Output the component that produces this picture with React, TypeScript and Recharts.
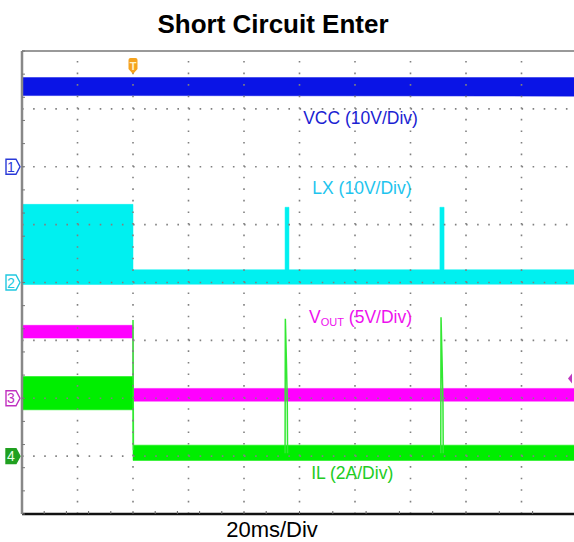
import { ComposedChart, Area, Line, XAxis, YAxis, ReferenceLine, ReferenceDot } from "recharts"

// scope screen: 10 horizontal divisions of 20 ms, 8 vertical divisions
const majorTime = [20, 40, 60, 80, 100, 120, 140, 160, 180]
const minorTime = Array.from({ length: 51 }, (_, i) => i * 4)
const majorDiv = [1, 2, 3, 4, 5, 6, 7]
const minorDiv = Array.from({ length: 41 }, (_, i) => i * 0.2)

// channel ground position (divisions from bottom) and units per division
const CH1 = { pos: 6, scale: 10 } // VCC, V
const CH2 = { pos: 4, scale: 10 } // LX, V
const CH3 = { pos: 2, scale: 5 } // VOUT, V
const CH4 = { pos: 1, scale: 2 } // IL, A

const triggerTime = 40
const triggerLevel = 1.7 // on CH3

// VCC noise band (V)
const vccTime = [0, 40, 200]
const vccLo = [12.3, 12.3, 12.2]
const vccHi = [15.4, 15.4, 15.4]

// LX switching band then hiccup pulses (V)
const lxTime = [0, 40, 40, 94.8, 94.8, 96.2, 96.2, 150.6, 150.6, 152.1, 152.1, 200]
const lxLo = [-0.35, -0.35, -0.3, -0.3, -0.3, -0.3, -0.3, -0.3, -0.3, -0.3, -0.3, -0.3]
const lxHi = [13.5, 13.5, 2.2, 2.2, 13.0, 13.0, 2.2, 2.2, 13.0, 13.0, 2.2, 2.2]

// VOUT band (V)
const voutTime = [0, 40, 40, 200]
const voutLo = [5.2, 5.2, -0.25, -0.25]
const voutHi = [6.3, 6.3, 0.85, 0.85]

// IL band (A)
const ilTime = [0, 40, 40, 200]
const ilLo = [1.6, 1.6, -0.15, -0.15]
const ilHi = [2.75, 2.75, 0.38, 0.38]

// IL spikes (A), null breaks the trace
const ilSpikeTime = [40, 40, 40.15, 40.15, 94.8, 94.9, 95.3, 95.6, 95.7, 95.7, 150.9, 151.0, 151.4, 151.7, 151.8]
const ilSpikeVal = [2.7, 4.7, 0.2, null, 0.1, 4.75, 3.2, 1.8, 0.1, null, 0.1, 4.8, 3.2, 1.8, 0.1]

const C = {
  vcc: "#0a14e6",
  lx: "#00f0f0",
  vout: "#ff00ff",
  il: "#00ee00",
}

const toDiv = (ch: { pos: number; scale: number }, v: number) => ch.pos + v / ch.scale

const band = (ch: { pos: number; scale: number }, time: number[], lo: number[], hi: number[]) =>
  time.map((t, i) => ({ t, v: [toDiv(ch, lo[i]), toDiv(ch, hi[i])] }))

const vccBand = band(CH1, vccTime, vccLo, vccHi)
const lxBand = band(CH2, lxTime, lxLo, lxHi)
const voutBand = band(CH3, voutTime, voutLo, voutHi)
const ilBand = band(CH4, ilTime, ilLo, ilHi)
const ilSpikes = ilSpikeTime.map((t, i) => ({
  t,
  v: ilSpikeVal[i] == null ? null : toDiv(CH4, ilSpikeVal[i] as number),
}))

const font = "'Liberation Sans', Arial, sans-serif"
const noTick = () => <g />

const ChannelTag = ({ cx, cy, n, color, filled }: any) => (
  <g>
    <path
      d={`M${cx - 16},${cy - 7.5} h10 l4,7.5 l-4,7.5 h-10 z`}
      fill={filled ? color : "#fff"}
      stroke={color}
      strokeWidth={1.4}
    />
    <text x={cx - 11} y={cy + 5} fontSize={14} fontFamily={font} textAnchor="middle" fill={filled ? "#e8ffe8" : color}>
      {n}
    </text>
  </g>
)

const TriggerT = ({ cx, cy }: any) => (
  <g>
    <path d={`M${cx - 4.5},${cy + 9} q0,-2 2,-2 h5 q2,0 2,2 v9 l-4.5,5 l-4.5,-5 z`} fill="#f5a31e" />
    <text x={cx} y={cy + 19} fontSize={11} fontFamily={font} fontWeight="bold" textAnchor="middle" fill="#fff3c8">
      T
    </text>
  </g>
)

const LevelMark = ({ cx, cy }: any) => <path d={`M${cx - 9},${cy} l4,-5 v10 z`} fill="#c03ac0" />

const Label = ({ cx, cy, text, color }: any) => (
  <text x={cx} y={cy + 6} fontSize={17.5} fontFamily={font} textAnchor="middle" fill={color}>
    {text}
  </text>
)

const VoutLabel = ({ cx, cy }: any) => (
  <text x={cx} y={cy + 6} fontSize={17.5} fontFamily={font} textAnchor="middle" fill="#ee10ee">
    V<tspan fontSize={11} dy={3}>OUT</tspan>
    <tspan dy={-3}> (5V/Div)</tspan>
  </text>
)

const App = () => {
  return (
    <div style={{ position: "absolute", left: 0, top: 0, width: 574, height: 542, background: "#fff" }}>
      <div
        style={{
          position: "absolute",
          left: 0,
          width: 546,
          top: 11,
          textAlign: "center",
          fontFamily: font,
          fontWeight: "bold",
          fontSize: 26,
          lineHeight: "26px",
        }}
      >
        Short Circuit Enter
      </div>
      <ComposedChart width={574} height={542} margin={{ top: 51, right: -3, bottom: 28, left: 22 }}>
        <XAxis
          xAxisId="b"
          type="number"
          dataKey="t"
          domain={[0, 200]}
          ticks={minorTime}
          orientation="bottom"
          mirror
          tick={noTick}
          tickSize={3}
          axisLine={{ stroke: "#111", strokeWidth: 2.5 }}
          tickLine={{ stroke: "#666" }}
        />
        <XAxis
          xAxisId="t"
          type="number"
          dataKey="t"
          domain={[0, 200]}
          ticks={minorTime}
          orientation="top"
          mirror
          tick={noTick}
          tickSize={3}
          axisLine={{ stroke: "#777", strokeWidth: 1.5 }}
          tickLine={{ stroke: "#777" }}
        />
        <YAxis
          yAxisId="l"
          type="number"
          domain={[0, 8]}
          ticks={minorDiv}
          orientation="left"
          mirror
          tick={noTick}
          tickSize={3}
          axisLine={{ stroke: "#888", strokeWidth: 2.5 }}
          tickLine={{ stroke: "#777" }}
        />
        <Area xAxisId="b" yAxisId="l" data={vccBand} dataKey="v" type="linear" stroke={C.vcc} strokeWidth={0.5} fill={C.vcc} fillOpacity={1} isAnimationActive={false} activeDot={false} />
        <Area xAxisId="b" yAxisId="l" data={lxBand} dataKey="v" type="linear" stroke={C.lx} strokeWidth={0.5} fill={C.lx} fillOpacity={1} isAnimationActive={false} activeDot={false} />
        <Area xAxisId="b" yAxisId="l" data={voutBand} dataKey="v" type="linear" stroke={C.vout} strokeWidth={0.5} fill={C.vout} fillOpacity={1} isAnimationActive={false} activeDot={false} />
        <Area xAxisId="b" yAxisId="l" data={ilBand} dataKey="v" type="linear" stroke={C.il} strokeWidth={0.5} fill={C.il} fillOpacity={1} isAnimationActive={false} activeDot={false} />
        <Line xAxisId="b" yAxisId="l" data={ilSpikes} dataKey="v" type="linear" stroke="#33e833" strokeWidth={1.5} dot={false} activeDot={false} connectNulls={false} isAnimationActive={false} />

        {majorTime.map((t) => (
          <ReferenceLine key={`gx${t}`} xAxisId="b" yAxisId="l" x={t} stroke="#808080" strokeWidth={1.6} strokeDasharray="1.6 9.975" />
        ))}
        {majorDiv.map((d) => (
          <ReferenceLine key={`gy${d}`} xAxisId="b" yAxisId="l" y={d} stroke="#808080" strokeWidth={1.6} strokeDasharray="1.6 9.5" />
        ))}

        <ReferenceDot xAxisId="b" yAxisId="l" x={0} y={CH1.pos} r={0} shape={(p: any) => <ChannelTag {...p} n="1" color="#2a3ad8" />} />
        <ReferenceDot xAxisId="b" yAxisId="l" x={0} y={CH2.pos} r={0} shape={(p: any) => <ChannelTag {...p} n="2" color="#20c8e0" />} />
        <ReferenceDot xAxisId="b" yAxisId="l" x={0} y={CH3.pos} r={0} shape={(p: any) => <ChannelTag {...p} n="3" color="#c030c0" />} />
        <ReferenceDot xAxisId="b" yAxisId="l" x={0} y={CH4.pos} r={0} shape={(p: any) => <ChannelTag {...p} n="4" color="#20a020" filled />} />
        <ReferenceDot xAxisId="b" yAxisId="l" x={triggerTime} y={8} r={0} shape={(p: any) => <TriggerT {...p} />} />
        <ReferenceDot xAxisId="b" yAxisId="l" x={200} y={toDiv(CH3, triggerLevel)} r={0} shape={(p: any) => <LevelMark {...p} />} />

        <ReferenceDot xAxisId="b" yAxisId="l" x={122} y={6.84} r={0} shape={(p: any) => <Label {...p} text="VCC (10V/Div)" color="#1a22d2" />} />
        <ReferenceDot xAxisId="b" yAxisId="l" x={122.5} y={5.63} r={0} shape={(p: any) => <Label {...p} text="LX (10V/Div)" color="#1ec4ee" />} />
        <ReferenceDot xAxisId="b" yAxisId="l" x={122} y={3.4} r={0} shape={(p: any) => <VoutLabel {...p} />} />
        <ReferenceDot xAxisId="b" yAxisId="l" x={119} y={0.71} r={0} shape={(p: any) => <Label {...p} text="IL (2A/Div)" color="#22cc22" />} />
      </ComposedChart>
      <div
        style={{
          position: "absolute",
          left: 0,
          width: 544,
          top: 519,
          textAlign: "center",
          fontFamily: font,
          fontSize: 22,
          lineHeight: "22px",
        }}
      >
        20ms/Div
      </div>
    </div>
  )
}

export default App
